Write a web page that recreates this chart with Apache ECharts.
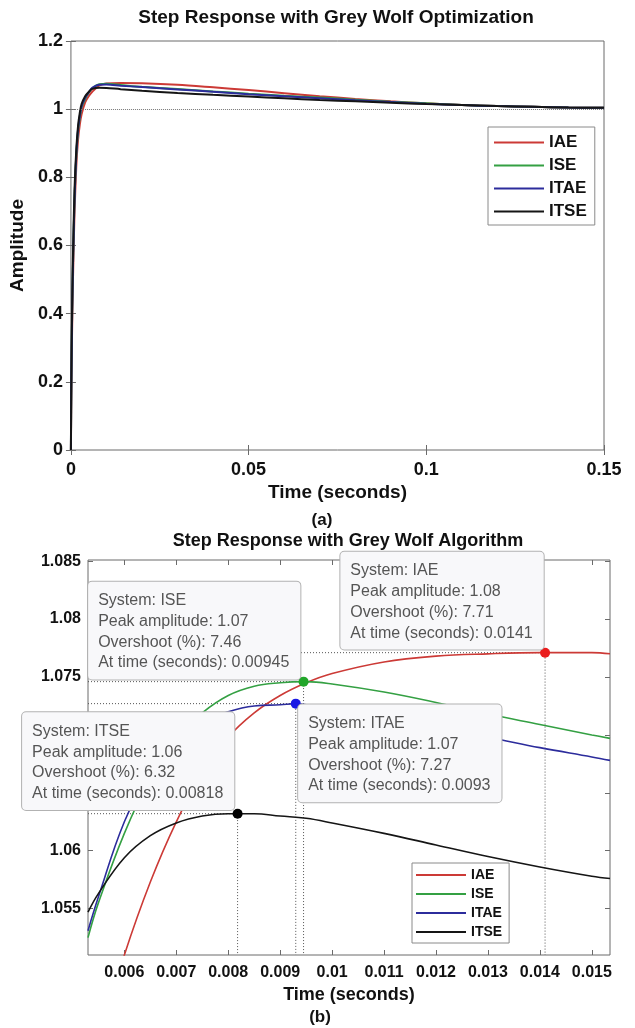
<!DOCTYPE html>
<html><head><meta charset="utf-8">
<script src="https://cdn.jsdelivr.net/npm/echarts@6/dist/echarts.min.js"></script>
<style>html,body{margin:0;padding:0;background:#fff}#c{width:635px;height:1028px}</style>
</head><body><div id="c"></div>
<script>
// ---------- data ----------
const seriesNames = ['IAE', 'ISE', 'ITAE', 'ITSE'];

// (a) full step response
const timeA = [0, 0.0001, 0.0003, 0.0005, 0.0007, 0.001, 0.0015, 0.002, 0.0025, 0.003, 0.004, 0.005, 0.006, 0.008, 0.01, 0.014, 0.02, 0.03, 0.04, 0.05, 0.06, 0.07, 0.08, 0.09, 0.1, 0.11, 0.12, 0.13, 0.14, 0.15];
const iaeA  = [0, 0.15, 0.33, 0.46, 0.56, 0.69, 0.83, 0.91, 0.955, 0.985, 1.02, 1.038, 1.051, 1.0698, 1.0753, 1.0771, 1.0762, 1.0715, 1.064, 1.056, 1.047, 1.038, 1.030, 1.023, 1.017, 1.012, 1.009, 1.007, 1.005, 1.004];
const iseA  = [0, 0.18, 0.37, 0.5, 0.6, 0.73, 0.86, 0.935, 0.975, 1.005, 1.03, 1.048, 1.0615, 1.0734, 1.0744, 1.0709, 1.0655, 1.059, 1.052, 1.0455, 1.0395, 1.034, 1.028, 1.022, 1.017, 1.012, 1.009, 1.007, 1.005, 1.004];
const itaeA = [0, 0.18, 0.37, 0.5, 0.6, 0.73, 0.865, 0.94, 0.98, 1.008, 1.033, 1.049, 1.0625, 1.072, 1.0722, 1.069, 1.0648, 1.058, 1.051, 1.044, 1.038, 1.032, 1.026, 1.021, 1.016, 1.012, 1.009, 1.007, 1.005, 1.004];
const itseA = [0, 0.2, 0.4, 0.53, 0.63, 0.76, 0.88, 0.95, 0.99, 1.015, 1.038, 1.0505, 1.0594, 1.0632, 1.0623, 1.0586, 1.054, 1.0475, 1.042, 1.037, 1.032, 1.027, 1.023, 1.019, 1.015, 1.012, 1.009, 1.007, 1.005, 1.004];

// (b) zoomed step response
const timeB = [0.0053, 0.0055, 0.006, 0.0065, 0.007, 0.0075, 0.008, 0.0085, 0.009, 0.0095, 0.010, 0.011, 0.012, 0.013, 0.014, 0.015, 0.01535];
const iaeB  = [1.0405, 1.0435, 1.0510, 1.0573, 1.0625, 1.0667, 1.0698, 1.0719, 1.0734, 1.0745, 1.0753, 1.0763, 1.0768, 1.0770, 1.0771, 1.0771, 1.0770];
const iseB  = [1.0525, 1.0555, 1.0615, 1.0663, 1.0697, 1.0719, 1.0734, 1.0742, 1.0745, 1.0746, 1.0744, 1.0737, 1.0728, 1.0718, 1.0709, 1.0700, 1.0697];
const itaeB = [1.0531, 1.0560, 1.0625, 1.0668, 1.0695, 1.0711, 1.0720, 1.0725, 1.0726, 1.0726, 1.0723, 1.0715, 1.0706, 1.0698, 1.0689, 1.0681, 1.0678];
const itseB = [1.0547, 1.0563, 1.0594, 1.0613, 1.0624, 1.0630, 1.0632, 1.0632, 1.0630, 1.0628, 1.0624, 1.0615, 1.0605, 1.0595, 1.0586, 1.0578, 1.0576];

// peak data tips
const peakTime = [0.0141, 0.00945, 0.0093, 0.00818];
const peakTimeText = ['0.0141', '0.00945', '0.0093', '0.00818'];
const peakAmpText = ['1.08', '1.07', '1.07', '1.06'];
const overshootPct = [7.71, 7.46, 7.27, 6.32];

// axes
const xTicksA = [0, 0.05, 0.1, 0.15];
const yTicksA = [0, 0.2, 0.4, 0.6, 0.8, 1, 1.2];
const xTicksB = [0.006, 0.007, 0.008, 0.009, 0.01, 0.011, 0.012, 0.013, 0.014, 0.015];
const yTicksB = [1.055, 1.06, 1.065, 1.07, 1.075, 1.08, 1.085];
const xRangeB = [0.0053, 0.01535];
const yRangeB = [1.0510, 1.0851];

// ---------- styles ----------
const FF = '"Liberation Sans", Arial, Helvetica, sans-serif';
const lineColors = ['#cc3a36', '#34a043', '#2c2c9c', '#151515'];
const markerColors = ['#ea1d1d', '#22a62a', '#1818e4', '#000000'];
const axisGray = '#6b6b6b';
// data tip box offsets (relative to marker symbol box)
const tipOffsets = [[-199.7, -96], [-210.4, -95], [7.4, 5.8], [-210.5, -96.4]];

const valsA = [iaeA, iseA, itaeA, itseA];
const valsB = [iaeB, iseB, itaeB, itseB];
const pairs = (ts, vs) => ts.map((t, i) => [t, vs[i]]);
const peakVal = overshootPct.map(o => 1 + o / 100);

function tickAxis(base) {
  return Object.assign({
    type: 'value', axisLine: { show: false }, splitLine: { show: false },
    axisTick: { show: true, inside: true, length: 5, lineStyle: { color: axisGray, width: 1 } }
  }, base);
}
const fmt3 = v => String(+(+v).toFixed(4));

const series = [];
// top chart lines
seriesNames.forEach((n, i) => {
  const s = {
    name: n, type: 'line', xAxisIndex: 0, yAxisIndex: 0, data: pairs(timeA, valsA[i]),
    showSymbol: false, symbol: 'none', smooth: 0.3, z: 3,
    lineStyle: { color: lineColors[i], width: 2 }, itemStyle: { color: lineColors[i] }
  };
  if (i === 0) {
    s.markLine = { silent: true, symbol: 'none', label: { show: false },
      lineStyle: { type: 'dotted', color: '#777', width: 1 }, data: [{ yAxis: 1 }] };
  }
  series.push(s);
});
// bottom: guide dotted lines
seriesNames.forEach((n, i) => {
  series.push({
    name: 'guide' + n, type: 'line', xAxisIndex: 2, yAxisIndex: 2, silent: true,
    data: [[xRangeB[0], peakVal[i]], [peakTime[i], peakVal[i]], [peakTime[i], yRangeB[0]]],
    symbol: 'none', z: 2, lineStyle: { type: [1, 2], color: '#555', width: 1 }
  });
});
// bottom curves
seriesNames.forEach((n, i) => {
  const d = pairs(timeB, valsB[i]);
  d.push([peakTime[i], peakVal[i]]);
  d.sort((a, b) => a[0] - b[0]);
  series.push({
    name: n, type: 'line', xAxisIndex: 2, yAxisIndex: 2, data: d,
    showSymbol: false, symbol: 'none', smooth: 0.4, z: 3,
    lineStyle: { color: lineColors[i], width: 1.6 }, itemStyle: { color: lineColors[i] }
  });
});
// bottom peak markers + data tips
seriesNames.forEach((n, i) => {
  series.push({
    name: 'peak' + n, type: 'scatter', xAxisIndex: 2, yAxisIndex: 2, z: 5,
    symbolSize: 10, itemStyle: { color: markerColors[i], opacity: 1 },
    data: [[peakTime[i], peakVal[i]]],
    label: {
      show: true, position: tipOffsets[i],
      formatter: 'System: ' + n + '\nPeak amplitude: ' + peakAmpText[i] +
        '\nOvershoot (%): ' + overshootPct[i].toFixed(2) + '\nAt time (seconds): ' + peakTimeText[i],
      fontFamily: FF, fontSize: 16, color: '#555', lineHeight: 20.7,
      backgroundColor: '#f8f8fa', borderColor: '#b2b2b2', borderWidth: 1, borderRadius: 4,
      padding: [9, 11, 6, 10]
    }
  });
});

const chart = echarts.init(document.getElementById('c'), null, { renderer: 'canvas' });
chart.setOption({
  backgroundColor: '#ffffff',
  animation: false,
  textStyle: { fontFamily: FF },
  grid: [
    { left: 68, top: 41, width: 536, height: 409, show: true, borderColor: axisGray, borderWidth: 1, backgroundColor: 'transparent' },
    { left: 88, top: 560, width: 522, height: 395, show: true, borderColor: axisGray, borderWidth: 1, backgroundColor: 'transparent' }
  ],
  xAxis: [
    tickAxis({ gridIndex: 0, min: xTicksA[0], max: xTicksA[xTicksA.length - 1], interval: 0.05,
      axisLabel: { fontFamily: FF, fontSize: 18, fontWeight: 'bold', color: '#111', margin: 11, formatter: fmt3 },
      name: 'Time (seconds)', nameLocation: 'middle', nameGap: 33,
      nameTextStyle: { fontFamily: FF, fontSize: 19, fontWeight: 'bold', color: '#111' } }),
    tickAxis({ gridIndex: 0, position: 'top', min: xTicksA[0], max: xTicksA[xTicksA.length - 1], interval: 0.05, axisLabel: { show: false } }),
    tickAxis({ gridIndex: 1, min: xRangeB[0], max: xRangeB[1],
      axisTick: { show: true, inside: true, length: 5, customValues: xTicksB, lineStyle: { color: axisGray } },
      axisLabel: { customValues: xTicksB, fontFamily: FF, fontSize: 16, fontWeight: 'bold', color: '#111', margin: 10, formatter: fmt3 },
      name: 'Time (seconds)', nameLocation: 'middle', nameGap: 31,
      nameTextStyle: { fontFamily: FF, fontSize: 18, fontWeight: 'bold', color: '#111' } }),
    tickAxis({ gridIndex: 1, position: 'top', min: xRangeB[0], max: xRangeB[1],
      axisTick: { show: true, inside: true, length: 5, customValues: xTicksB, lineStyle: { color: axisGray } },
      axisLabel: { show: false, customValues: xTicksB } })
  ],
  yAxis: [
    tickAxis({ gridIndex: 0, min: yTicksA[0], max: yTicksA[yTicksA.length - 1], interval: 0.2,
      axisLabel: { fontFamily: FF, fontSize: 18, fontWeight: 'bold', color: '#111', margin: 8, formatter: fmt3 },
      name: 'Amplitude', nameLocation: 'middle', nameGap: 36, nameRotate: 90,
      nameTextStyle: { fontFamily: FF, fontSize: 19, fontWeight: 'bold', color: '#111' } }),
    tickAxis({ gridIndex: 0, position: 'right', min: yTicksA[0], max: yTicksA[yTicksA.length - 1], interval: 0.2, axisLabel: { show: false } }),
    tickAxis({ gridIndex: 1, min: yRangeB[0], max: yRangeB[1],
      axisTick: { show: true, inside: true, length: 5, customValues: yTicksB, lineStyle: { color: axisGray } },
      axisLabel: { customValues: yTicksB, fontFamily: FF, fontSize: 16, fontWeight: 'bold', color: '#111', margin: 7, formatter: fmt3 } }),
    tickAxis({ gridIndex: 1, position: 'right', min: yRangeB[0], max: yRangeB[1],
      axisTick: { show: true, inside: true, length: 5, customValues: yTicksB, lineStyle: { color: axisGray } },
      axisLabel: { show: false, customValues: yTicksB } })
  ],
  legend: [
    { data: seriesNames, orient: 'vertical', left: 488, top: 127, padding: [7, 8, 5, 6],
      borderColor: '#8a8a8a', borderWidth: 1, backgroundColor: '#fff', icon: 'rect',
      itemWidth: 50, itemHeight: 2, itemGap: 6, selectedMode: false,
      textStyle: { fontFamily: FF, fontSize: 17, fontWeight: 'bold', color: '#111', lineHeight: 16 } },
    { data: seriesNames, orient: 'vertical', left: 412, top: 863, padding: [5, 7, 4, 4],
      borderColor: '#8a8a8a', borderWidth: 1, backgroundColor: '#fff', icon: 'rect',
      itemWidth: 50, itemHeight: 2, itemGap: 5, selectedMode: false,
      textStyle: { fontFamily: FF, fontSize: 14, fontWeight: 'bold', color: '#111', lineHeight: 14 } }
  ],
  graphic: [
    { type: 'text', x: 336, y: 18, style: { text: 'Step Response with Grey Wolf Optimization', font: 'bold 19px ' + FF, fill: '#111', textAlign: 'center', textVerticalAlign: 'middle' } },
    { type: 'text', x: 322, y: 520, style: { text: '(a)', font: 'bold 17px ' + FF, fill: '#111', textAlign: 'center', textVerticalAlign: 'middle' } },
    { type: 'text', x: 348, y: 541, style: { text: 'Step Response with Grey Wolf Algorithm', font: 'bold 18px ' + FF, fill: '#111', textAlign: 'center', textVerticalAlign: 'middle' } },
    { type: 'text', x: 320, y: 1017, style: { text: '(b)', font: 'bold 17px ' + FF, fill: '#111', textAlign: 'center', textVerticalAlign: 'middle' } }
  ],
  series: series
});
</script>
</body></html>
